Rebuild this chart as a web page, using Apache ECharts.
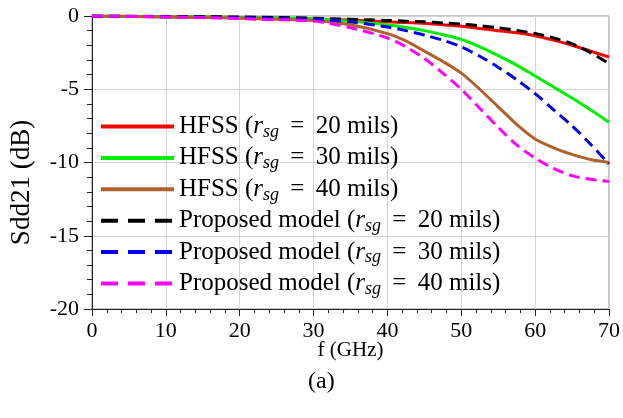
<!DOCTYPE html>
<html>
<head>
<meta charset="utf-8">
<script src="https://cdn.jsdelivr.net/npm/echarts@6/dist/echarts.min.js"></script>
<style>
  html, body { margin: 0; padding: 0; background: #fff; }
  #chart { width: 623px; height: 418px; }
</style>
</head>
<body>
<div id="chart"></div>
<script>
// frequency points (GHz)
var freq = [0, 5, 10, 15, 20, 25, 30, 35, 40, 42.5, 45, 47.5, 50, 52.5, 55, 57.5, 60, 62.5, 65, 67.5, 70];

// Sdd21 (dB)
var hfss20 = [0, -0.02, -0.05, -0.07, -0.1, -0.14, -0.2, -0.28, -0.4, -0.45, -0.5, -0.6, -0.7, -0.85, -1.0, -1.15, -1.35, -1.65, -2.0, -2.4, -2.8];
var hfss30 = [0, -0.02, -0.05, -0.07, -0.1, -0.13, -0.18, -0.35, -0.6, -0.78, -1.0, -1.27, -1.6, -2.1, -2.7, -3.35, -4.1, -4.85, -5.6, -6.4, -7.25];
var hfss40 = [0, -0.03, -0.06, -0.1, -0.15, -0.22, -0.3, -0.6, -1.2, -1.7, -2.4, -3.1, -3.9, -5.0, -6.2, -7.4, -8.4, -9.0, -9.45, -9.8, -10.0];
var model20 = [0, -0.01, -0.03, -0.05, -0.07, -0.1, -0.15, -0.22, -0.3, -0.35, -0.4, -0.47, -0.55, -0.66, -0.8, -0.98, -1.2, -1.5, -1.9, -2.5, -3.25];
var model30 = [0, -0.02, -0.05, -0.08, -0.12, -0.16, -0.22, -0.4, -0.75, -1.0, -1.3, -1.65, -2.1, -2.75, -3.5, -4.35, -5.3, -6.4, -7.5, -8.75, -10.1];
var model40 = [0, -0.03, -0.06, -0.11, -0.18, -0.26, -0.35, -0.8, -1.5, -2.1, -2.9, -3.9, -5.0, -6.3, -7.6, -8.8, -9.7, -10.4, -10.9, -11.15, -11.3];

var xTicks = [0, 10, 20, 30, 40, 50, 60, 70];
var yTicks = [0, -5, -10, -15, -20];

var serif = '"Liberation Serif", "Times New Roman", serif';

function pairs(ys) {
    return freq.map(function (f, i) { return [f, ys[i]]; });
}

var seriesDefs = [
    { name: 'h20', data: hfss20, color: '#ff0000', dash: 'solid', label: ['HFSS (', '20'] },
    { name: 'h30', data: hfss30, color: '#00ee00', dash: 'solid', label: ['HFSS (', '30'] },
    { name: 'h40', data: hfss40, color: '#b0602c', dash: 'solid', label: ['HFSS (', '40'] },
    { name: 'm20', data: model20, color: '#000000', dash: [11, 6], label: ['Proposed model (', '20'] },
    { name: 'm30', data: model30, color: '#0000ee', dash: [11, 6], label: ['Proposed model (', '30'] },
    { name: 'm40', data: model40, color: '#ff00ff', dash: [11, 6], label: ['Proposed model (', '40'] }
];
var labelMap = {};
seriesDefs.forEach(function (s) { labelMap[s.name] = s.label; });

var chart = echarts.init(document.getElementById('chart'));
window.addEventListener('resize', function () { chart.resize(); });

chart.setOption({
    animation: false,
    backgroundColor: '#fff',
    title: {
        text: '(a)',
        left: 303,
        top: 365,
        textStyle: { fontFamily: serif, fontSize: 24, fontWeight: 'normal', color: '#000' }
    },
    grid: {
        left: 92, right: 12, top: 16, bottom: 109,
        show: true, borderColor: '#8c8c8c', borderWidth: 1
    },
    legend: {
        orient: 'vertical',
        left: 99,
        top: 112,
        padding: 0,
        itemWidth: 73,
        itemHeight: 12,
        itemGap: 2.4,
        itemStyle: { opacity: 0 },
        data: seriesDefs.map(function (s) {
            return {
                name: s.name,
                lineStyle: { width: 4, type: s.dash === 'solid' ? 'solid' : [17, 10] }
            };
        }),
        formatter: function (name) {
            var l = labelMap[name];
            return '{n|' + l[0] + '}{i|r}{s|sg}{n| \u2009=\u2009 ' + l[1] + ' mils)}';
        },
        textStyle: {
            rich: {
                n: { fontFamily: serif, fontSize: 25, color: '#000', lineHeight: 26 },
                i: { fontFamily: serif, fontStyle: 'italic', fontSize: 25, color: '#000', lineHeight: 26 },
                s: { fontFamily: serif, fontStyle: 'italic', fontSize: 18, color: '#000', lineHeight: 26, padding: [11, 0, 0, 0] }
            }
        }
    },
    xAxis: {
        type: 'value',
        min: 0, max: 70, interval: 10,
        name: 'f (GHz)',
        nameLocation: 'middle',
        nameGap: 31,
        nameMoveOverlap: false,
        nameTextStyle: { fontFamily: serif, fontSize: 21, color: '#000' },
        axisLine: { show: true, onZero: false, lineStyle: { color: '#222', width: 1 } },
        axisTick: { show: true, inside: false, length: 7, lineStyle: { color: '#222' } },
        minorTick: { show: true, splitNumber: 5, length: 4, lineStyle: { color: '#222' } },
        splitLine: { show: true, lineStyle: { color: '#d4d4d4', width: 1 } },
        axisLabel: {
            fontFamily: serif, fontSize: 22, color: '#000', margin: 11,
            formatter: function (v) { return xTicks.indexOf(v) >= 0 ? String(v) : ''; }
        }
    },
    yAxis: {
        type: 'value',
        min: -20, max: 0, interval: 5,
        name: 'Sdd21 (dB)',
        nameLocation: 'middle',
        nameGap: 57,
        nameMoveOverlap: false,
        nameTextStyle: { fontFamily: serif, fontSize: 27, color: '#000', padding: [0, 40, 0, 0] },
        axisLine: { show: true, onZero: false, lineStyle: { color: '#222', width: 1 } },
        axisTick: { show: true, inside: false, length: 8, lineStyle: { color: '#222' } },
        minorTick: { show: true, splitNumber: 5, length: 5, lineStyle: { color: '#222' } },
        splitLine: { show: true, lineStyle: { color: '#d4d4d4', width: 1 } },
        axisLabel: {
            fontFamily: serif, fontSize: 22, color: '#000', margin: 13,
            formatter: function (v) { return yTicks.indexOf(v) >= 0 ? String(v) : ''; }
        }
    },
    series: seriesDefs.map(function (s) {
        return {
            name: s.name,
            type: 'line',
            data: pairs(s.data),
            smooth: 0.3,
            showSymbol: false,
            symbol: 'none',
            color: s.color,
            lineStyle: { color: s.color, width: 3, type: s.dash }
        };
    })
});
</script>
</body>
</html>
